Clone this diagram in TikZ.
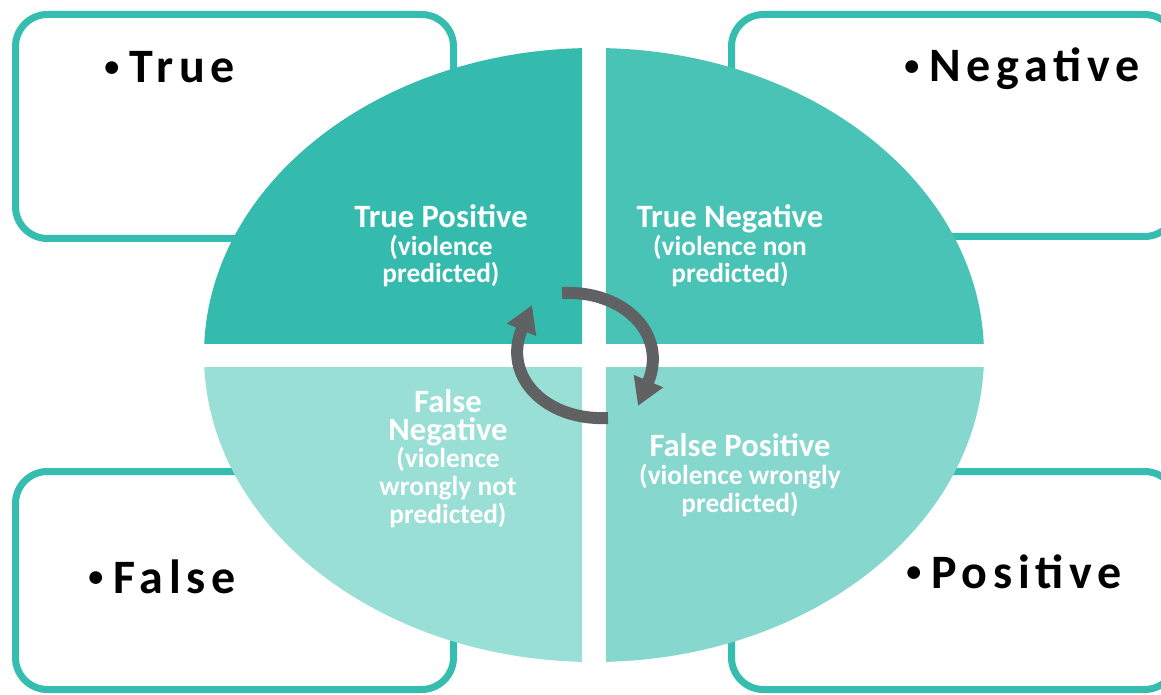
\documentclass[tikz,border=0pt]{standalone}
\usepackage{fontspec}
\setmainfont{Carlito}
\newfontfamily\spacedfont[LetterSpace=12]{Carlito}
\usetikzlibrary{arrows.meta, positioning}
\definecolor{boxline}{HTML}{35BDAF}
\definecolor{quadTP}{HTML}{35BBAD}
\definecolor{quadTN}{HTML}{48C3B5}
\definecolor{quadFN}{HTML}{9ADFD6}
\definecolor{quadFP}{HTML}{86D7CE}
\definecolor{arrowgray}{HTML}{5F6163}
\newcommand{\qhead}[1]{{\fontsize{16.3}{14}\selectfont #1}}
\newcommand{\catbullet}{\raisebox{3.1pt}{\fontsize{15}{15}\selectfont •}\hspace{5pt}}

\begin{document}
\begin{tikzpicture}[
    x=0.5pt,
    y=-0.5pt,
    catbox/.style={draw=boxline, line width=3.5pt, rounded corners=16pt, fill=white, inner sep=0pt},
    catlabel/.style={anchor=base west, inner sep=0pt, font=\spacedfont\bfseries\fontsize{24}{26}\selectfont},
    quadtext/.style={align=center, text=white, inner sep=0pt, anchor=base, font=\bfseries\fontsize{13.7}{13.8}\selectfont},
    cyclearrow/.style={draw=arrowgray, line width=6pt, -{Triangle[width=15pt, length=13.5pt]}}
]
    \useasboundingbox (0,0) rectangle (1161,695);

    \node[catbox, minimum width=219pt, minimum height=112pt] (boxTrue) at (234.5,126.5) {};
    \node[catbox, minimum width=222.5pt, minimum height=111pt] (boxNeg) at (954,125.5) {};
    \node[catbox, minimum width=219pt, minimum height=109pt] (boxFalse) at (234.5,580.5) {};
    \node[catbox, minimum width=222.5pt, minimum height=109pt] (boxPos) at (954,580.5) {};

    \node[catlabel] (lblTrue) at (104,83) {\catbullet True};
    \node[catlabel] (lblNeg) at (904,82) {\catbullet Negative};
    \node[catlabel] (lblFalse) at (88,593) {\catbullet False};
    \node[catlabel] (lblPos) at (906,588) {\catbullet Positive};

    \begin{scope}
        \clip (150,0) rectangle (582,343);
        \fill[quadTP] (594,355) ellipse [x radius=195pt, y radius=153.5pt];
    \end{scope}
    \begin{scope}
        \clip (606,0) rectangle (1050,343);
        \fill[quadTN] (594,355) ellipse [x radius=195pt, y radius=153.5pt];
    \end{scope}
    \begin{scope}
        \clip (150,367) rectangle (582,700);
        \fill[quadFN] (594,355) ellipse [x radius=195pt, y radius=153.5pt];
    \end{scope}
    \begin{scope}
        \clip (606,367) rectangle (1050,700);
        \fill[quadFP] (594,355) ellipse [x radius=195pt, y radius=153.5pt];
    \end{scope}

    \node[quadtext] (tp) at (441,283) {\qhead{True Positive}\\(violence\\predicted)};
    \node[quadtext] (tn) at (730,283) {\qhead{True Negative}\\(violence non\\predicted)};
    \node[quadtext] (fn) at (448,523) {\qhead{False}\\\qhead{Negative}\\(violence\\wrongly not\\predicted)};
    \node[quadtext] (fp) at (740,512) {\qhead{False Positive}\\(violence wrongly\\predicted)};

    \coordinate (cwStart) at (562,293);
    \coordinate (cwTip) at (638,406);
    \coordinate (ccStart) at (608,418);
    \coordinate (ccTip) at (532,305);
    \draw[cyclearrow] (cwStart) .. controls (625,290) and (668,335) .. (cwTip);
    \draw[cyclearrow] (ccStart) .. controls (545,421) and (502,376) .. (ccTip);
\end{tikzpicture}
\end{document}
